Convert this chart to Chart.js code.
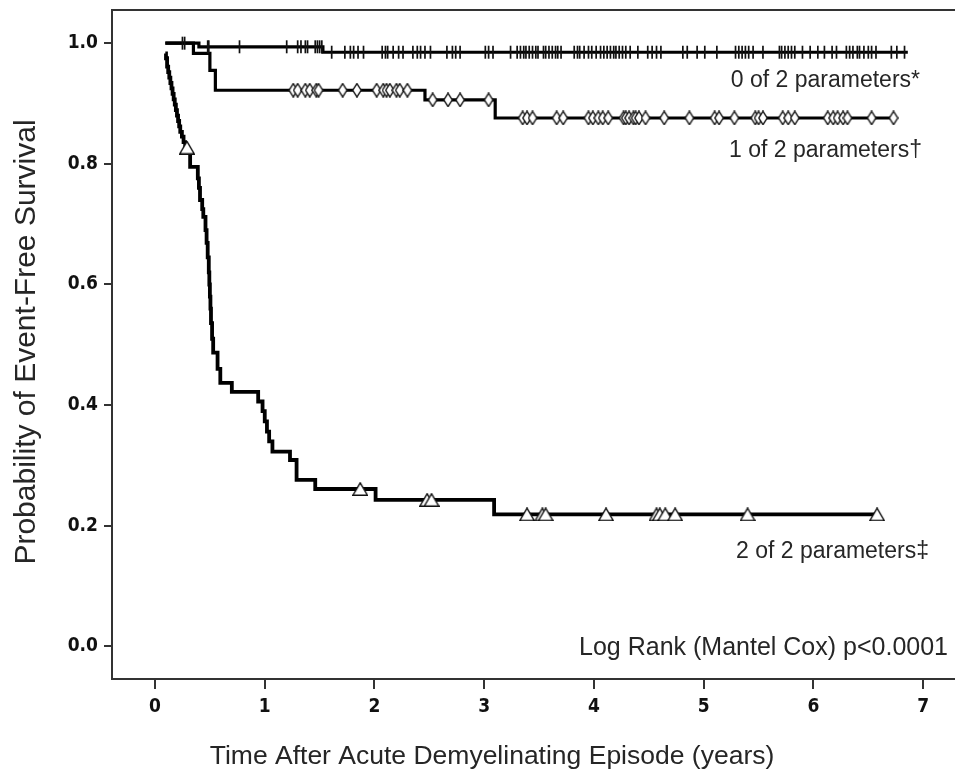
<!DOCTYPE html>
<html><head><meta charset="utf-8">
<style>html,body{margin:0;padding:0;background:#fff;}</style>
</head><body>
<canvas id="c" width="955" height="776"></canvas>
<script src="https://cdn.jsdelivr.net/npm/chart.js@4.4.0/dist/chart.umd.min.js"></script>
<script>
// ---------- data ----------
const xTicks = [0,1,2,3,4,5,6,7];
const yTicks = [0,0.2,0.4,0.6,0.8,1.0];
const yTickLabels = ['0.0','0.2','0.4','0.6','0.8','1.0'];

// 0 of 2 parameters
const g0Times = [0.094, 0.40, 1.53, 6.86];
const g0Surv  = [1.000, 0.994, 0.985, 0.985];
const g0Censor = [0.25,0.27,0.48,0.49,0.77,1.20,1.30,1.33,1.37,1.39,1.46,1.48,1.50,1.52,1.61,1.73,1.78,1.81,1.85,1.90,
  2.07,2.10,2.12,2.17,2.22,2.26,2.35,2.39,2.42,2.46,2.51,2.66,2.71,2.74,2.78,3.01,3.04,3.08,3.24,
  3.30,3.33,3.36,3.38,3.41,3.44,3.47,3.49,3.54,3.56,3.59,3.62,3.65,3.67,3.70,
  3.82,3.85,3.87,3.91,3.95,3.98,4.02,4.06,4.09,4.12,4.15,4.18,4.20,4.23,4.26,4.29,4.33,4.40,
  4.49,4.53,4.57,4.61,4.81,4.85,4.94,5.01,5.12,5.29,5.32,5.35,5.38,5.41,5.45,5.54,
  5.69,5.71,5.74,5.77,5.80,5.83,5.90,5.97,6.04,6.10,6.17,6.21,
  6.30,6.33,6.36,6.40,6.42,6.46,6.50,6.53,6.57,6.71,6.76,6.83];

// 1 of 2 parameters
const g1Times = [0.094, 0.35, 0.50, 0.55, 2.46, 3.10, 6.76];
const g1Surv  = [1.000, 0.983, 0.955, 0.922, 0.906, 0.876, 0.876];
const g1Censor = [1.26,1.30,1.37,1.41,1.47,1.49,1.71,1.84,2.02,2.08,2.11,2.14,2.20,2.23,2.30,
  2.53,2.67,2.78,3.04,
  3.35,3.39,3.44,3.66,3.72,3.95,3.99,4.04,4.08,4.13,4.27,4.29,4.32,4.36,4.38,4.41,4.47,4.64,4.87,
  5.10,5.14,5.28,5.47,5.50,5.54,5.72,5.77,5.83,6.13,6.18,6.22,6.27,6.31,6.53,6.73];

// 2 of 2 parameters
const g2Times = [0.094,0.10,0.11,0.12,0.13,0.14,0.15,0.16,0.17,0.18,0.19,0.20,0.21,0.22,0.23,0.245,0.26,0.275,0.30,0.32,
  0.39,0.40,0.41,0.43,0.44,0.46,0.47,0.48,0.49,0.495,0.50,0.505,0.51,0.52,0.53,0.57,0.595,0.70,0.94,0.98,
  1.00,1.02,1.04,1.07,1.23,1.29,1.46,2.01,3.09,6.58];
const g2Surv  = [0.983,0.975,0.961,0.952,0.943,0.934,0.925,0.916,0.907,0.898,0.889,0.880,0.871,0.862,0.853,0.845,0.836,0.827,0.818,0.795,
  0.776,0.760,0.740,0.725,0.712,0.690,0.669,0.645,0.620,0.600,0.580,0.560,0.536,0.510,0.487,0.460,0.437,0.422,0.406,0.390,
  0.373,0.356,0.340,0.323,0.309,0.276,0.261,0.243,0.219,0.219];
const g2Censor = [0.291,1.87,2.48,2.52,3.39,3.53,3.56,4.11,4.57,4.60,4.65,4.74,5.40,6.58];

// ---------- helpers ----------
function curve(times, surv){ return times.map((t,i)=>({x:t,y:surv[i]})); }
function stepAt(times, surv, t){
  let v = surv[0];
  for (let i=0;i<times.length;i++){ if (times[i] <= t) v = surv[i]; }
  return v;
}
function marks(cens, times, surv){ return cens.map(t=>({x:t,y:stepAt(times,surv,t)})); }

function makeDiamond(){
  const w=10,h=15,c=document.createElement('canvas'); c.width=w; c.height=h;
  const g=c.getContext('2d');
  g.beginPath(); g.moveTo(w/2,0.8); g.lineTo(w-0.8,h/2); g.lineTo(w/2,h-0.8); g.lineTo(0.8,h/2); g.closePath();
  g.fillStyle='#fff'; g.fill(); g.lineWidth=1.4; g.strokeStyle='#111'; g.stroke();
  return c;
}
function makeTriangle(){
  const w=16,h=14,c=document.createElement('canvas'); c.width=w; c.height=h;
  const g=c.getContext('2d');
  g.beginPath(); g.moveTo(w/2,0.8); g.lineTo(w-0.8,h-0.8); g.lineTo(0.8,h-0.8); g.closePath();
  g.fillStyle='#fff'; g.fill(); g.lineWidth=1.4; g.strokeStyle='#111'; g.stroke();
  return c;
}
const diamond = makeDiamond();
const triangle = makeTriangle();

const FONT = '"Liberation Sans", Arial, Helvetica, sans-serif';
const TICKFONT = '"DejaVu Sans Condensed", "Liberation Sans Narrow", "Liberation Sans", Arial, sans-serif';

const textPlugin = {
  id: 'texts',
  afterDraw(chart){
    const ctx = chart.ctx, a = chart.chartArea;
    ctx.save();
    ctx.strokeStyle = '#333'; ctx.lineWidth = 2;
    ctx.beginPath(); ctx.moveTo(a.left-1, a.top); ctx.lineTo(a.right+2, a.top); ctx.stroke();

    ctx.fillStyle = '#262626';
    ctx.font = '23px ' + FONT;
    ctx.textAlign = 'right'; ctx.textBaseline = 'alphabetic';
    ctx.fillText('0 of 2 parameters*', 920, 87);
    ctx.fillText('1 of 2 parameters\u2020', 922, 157);
    ctx.fillText('2 of 2 parameters\u2021', 929, 558);
    ctx.font = '25px ' + FONT;
    ctx.fillText('Log Rank (Mantel Cox) p<0.0001', 948, 655);

    ctx.textAlign = 'center';
    ctx.font = '26.5px ' + FONT;
    ctx.fillText('Time After Acute Demyelinating Episode (years)', 492, 764);

    ctx.translate(35, 342); ctx.rotate(-Math.PI/2);
    ctx.font = '30px ' + FONT;
    ctx.fillText('Probability of Event-Free Survival', 0, 0);
    ctx.restore();
  }
};

new Chart(document.getElementById('c'), {
  type: 'scatter',
  data: {
    datasets: [
      { label:'0 of 2 censored', data: marks(g0Censor,g0Times,g0Surv), pointStyle:'line', rotation:90,
        pointRadius:6.5, pointBorderWidth:1.7, borderColor:'#111', backgroundColor:'#111', showLine:false },
      { label:'1 of 2 censored', data: marks(g1Censor,g1Times,g1Surv), pointStyle: diamond, pointRadius:7, showLine:false },
      { label:'2 of 2 censored', data: marks(g2Censor,g2Times,g2Surv), pointStyle: triangle, pointRadius:7, showLine:false },
      { label:'0 of 2 parameters', data: curve(g0Times,g0Surv), showLine:true, stepped:'before', borderColor:'#000', borderWidth:3.2, pointRadius:0 },
      { label:'1 of 2 parameters', data: curve(g1Times,g1Surv), showLine:true, stepped:'before', borderColor:'#000', borderWidth:3.2, pointRadius:0 },
      { label:'2 of 2 parameters', data: curve(g2Times,g2Surv), showLine:true, stepped:'before', borderColor:'#000', borderWidth:3.8, pointRadius:0 }
    ]
  },
  options: {
    responsive:false, animation:false, devicePixelRatio:1,
    layout:{ autoPadding:false, padding:{ top:10, right:0, left:0, bottom:0 } },
    plugins:{ legend:{display:false}, tooltip:{enabled:false} },
    scales:{
      x:{ type:'linear', min:-0.392, max:7.29,
        afterBuildTicks: s => { s.ticks = xTicks.map(v=>({value:v})); },
        afterFit: s => { s.height = 97; s.paddingLeft = 0; s.paddingRight = 0; },
        grid:{ drawOnChartArea:false, drawTicks:true, tickLength:10, color:'#333', lineWidth:2 },
        border:{ display:true, color:'#333', width:2 },
        ticks:{ padding:7, color:'#111', font:{ family:TICKFONT, size:19, weight:'bold' }, callback: v => String(v) }
      },
      y:{ type:'linear', min:-0.054, max:1.055,
        afterBuildTicks: s => { s.ticks = yTicks.map(v=>({value:v})); },
        afterFit: s => { s.width = 112; s.paddingTop = 0; s.paddingBottom = 0; },
        grid:{ drawOnChartArea:false, drawTicks:true, tickLength:8, color:'#333', lineWidth:2 },
        border:{ display:true, color:'#333', width:2 },
        ticks:{ padding:6, color:'#111', font:{ family:TICKFONT, size:19, weight:'bold' },
          callback: (v) => { const i = yTicks.findIndex(t=>Math.abs(t-v)<1e-9); return i>=0 ? yTickLabels[i] : ''; } }
      }
    }
  },
  plugins:[textPlugin]
});
</script>
</body></html>
